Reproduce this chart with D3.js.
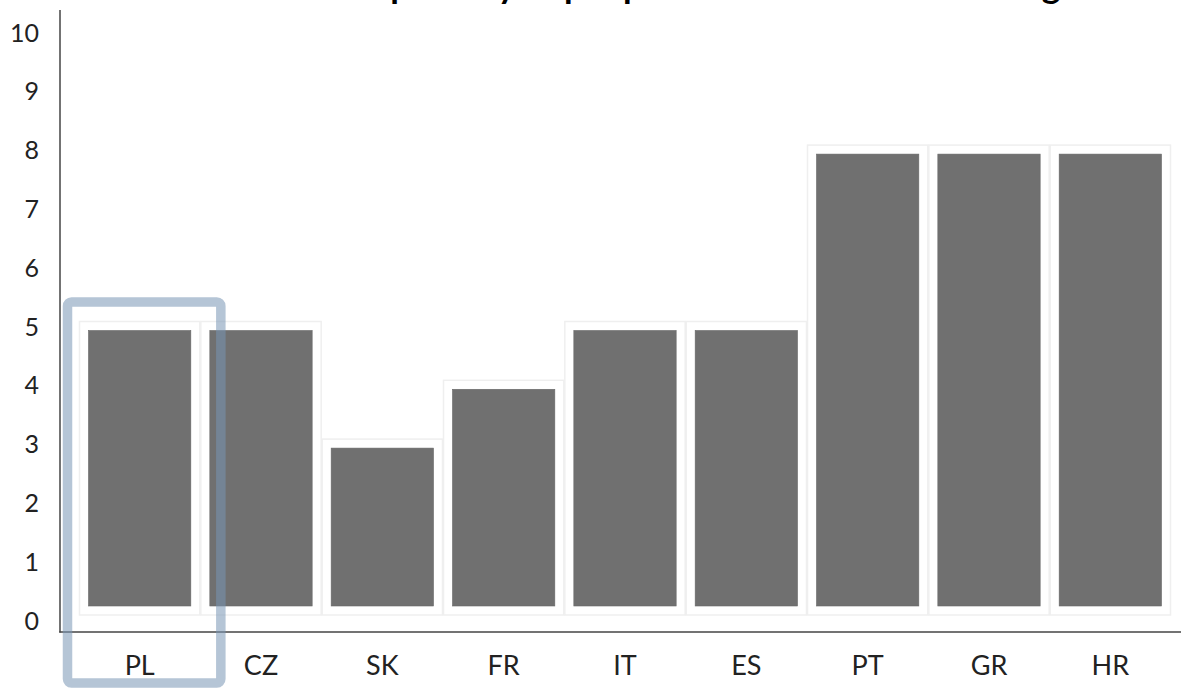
<!DOCTYPE html>
<html>
<head>
<meta charset="utf-8">
<script src="https://cdn.jsdelivr.net/npm/d3@7"></script>
<style>
  html, body { margin: 0; padding: 0; background: #fff; }
  svg { display: block; }
</style>
</head>
<body>
<svg id="chart" width="1181" height="688"></svg>
<script>
// Country codes along the x axis
const countries = ["PL", "CZ", "SK", "FR", "IT", "ES", "PT", "GR", "HR"];
// Score per country (0–10)
const scores = [5, 5, 3, 4, 5, 5, 8, 8, 8];
// Y-axis tick values
const yTicks = [0, 1, 2, 3, 4, 5, 6, 7, 8, 9, 10];
// Country picked out with a frame
const highlighted = ["PL"];
const titleText = "Competency of people who were able to manage";

const W = 1181, H = 688;
const svg = d3.select("#chart");
const FONT = "Lato, 'Open Sans', 'DejaVu Sans', sans-serif";

const x = d3.scaleBand().domain(countries).range([79, 1171]).padding(0);
const y = d3.scaleLinear().domain([0, 10]).range([620, 32]);

const data = countries.map((c, i) => ({ c, v: scores[i] }));

// Title: sits above the top edge, only its descenders reach into view.
// Size and offset are set so the word "people" spans a fixed stretch.
const title = svg.append("text")
  .attr("x", 0)
  .attr("y", -2.5)
  .attr("font-family", FONT)
  .attr("font-weight", 700)
  .attr("font-size", 36)
  .attr("fill", "#000")
  .text(titleText);
{
  const node = title.node();
  const i1 = titleText.indexOf("people");
  const i2 = i1 + 3;
  const gap = node.getStartPositionOfChar(i2).x - node.getStartPositionOfChar(i1).x;
  const size = 36 * 59 / gap;
  title.attr("font-size", size);
  const start = node.getStartPositionOfChar(i1).x;
  title.attr("x", 564 - start);
}

// Light cell behind each bar
svg.append("g").selectAll("rect")
  .data(data)
  .join("rect")
  .attr("x", d => x(d.c) + 0.5)
  .attr("y", d => y(d.v) - 4.5)
  .attr("width", x.bandwidth() - 1)
  .attr("height", d => (y(0) - 5) - (y(d.v) - 4.5))
  .attr("fill", "#fff")
  .attr("stroke", "#efefef")
  .attr("stroke-width", 1.5);

// Bars
svg.append("g").selectAll("rect")
  .data(data)
  .join("rect")
  .attr("x", d => x(d.c) + 9.5)
  .attr("y", d => y(d.v) + 4.5)
  .attr("width", x.bandwidth() - 19)
  .attr("height", d => (y(0) - 14) - (y(d.v) + 4.5))
  .attr("fill", "#707070")
  .attr("stroke", "#686868")
  .attr("stroke-width", 0.6);

// Y axis labels
const yAxis = d3.axisLeft(y).tickValues(yTicks).tickSize(0).tickPadding(0).tickFormat(d3.format("d"));
const gy = svg.append("g").attr("transform", "translate(39,0)").call(yAxis);
gy.select(".domain").remove();
gy.selectAll("text")
  .attr("font-family", FONT)
  .attr("font-size", 25)
  .attr("fill", "#222")
  .attr("dy", "0.36em");

// X axis labels
const xAxis = d3.axisBottom(x).tickSize(0).tickPadding(0);
const gx = svg.append("g").attr("transform", "translate(0,655)").call(xAxis);
gx.select(".domain").remove();
gx.selectAll("text")
  .attr("font-family", FONT)
  .attr("font-size", 27)
  .attr("fill", "#222")
  .attr("dy", "0.75em");

// Axis lines
svg.append("line")
  .attr("x1", 60).attr("x2", 60)
  .attr("y1", 10).attr("y2", 632.5)
  .attr("stroke", "#444").attr("stroke-width", 1.5);
svg.append("line")
  .attr("x1", 59.25).attr("x2", W)
  .attr("y1", 632).attr("y2", 632)
  .attr("stroke", "#444").attr("stroke-width", 1.5);

// Highlight frame around the picked country
svg.append("g").selectAll("rect")
  .data(highlighted)
  .join("rect")
  .attr("x", d => x(d) - 11.5)
  .attr("y", d => y(scores[countries.indexOf(d)]) - 24)
  .attr("width", x.bandwidth() + 32)
  .attr("height", d => 683 - (y(scores[countries.indexOf(d)]) - 24))
  .attr("rx", 4)
  .attr("fill", "none")
  .attr("stroke", "rgb(120,150,180)")
  .attr("stroke-opacity", 0.55)
  .attr("stroke-width", 9.5);
</script>
</body>
</html>
